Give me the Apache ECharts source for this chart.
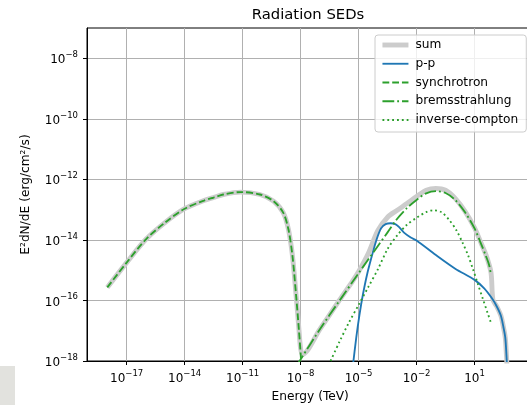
<!DOCTYPE html>
<html>
<head>
<meta charset="utf-8">
<script src="https://cdn.jsdelivr.net/npm/echarts@6/dist/echarts.min.js"></script>
<style>
html,body{margin:0;padding:0;background:#fff;}
#chart{width:527px;height:405px;}
</style>
</head>
<body>
<div id="chart"></div>
<script>
// ---- values (log10 of energy in TeV, log10 of E^2dN/dE) ----
const xTickExp = [-17, -14, -11, -8, -5, -2, 1];
const yTickExp = [-18, -16, -14, -12, -10, -8];

const sumLogE = [-18.0, -17.0, -16.0, -15.0, -14.0, -13.0, -12.5, -12.0, -11.1, -10.1, -9.4, -8.9, -8.63, -8.42, -8.23, -8.09, -8.0, -7.9, -7.0, -6.0, -5.3, -5.0, -4.5, -4.0, -3.5, -3.0, -2.5, -2.0, -1.5, -1.0, -0.5, 0.0, 0.5, 1.0, 1.3, 1.6, 1.85, 1.95, 2.15, 2.36, 2.5, 2.59, 2.65, 2.68];
const sumLogF = [-15.57, -14.75, -13.98, -13.42, -12.97, -12.70, -12.60, -12.50, -12.42, -12.50, -12.72, -13.10, -13.65, -14.53, -15.85, -16.92, -17.58, -17.78, -16.95, -16.0, -15.35, -15.05, -14.45, -13.69, -13.25, -13.02, -12.80, -12.57, -12.36, -12.30, -12.36, -12.63, -13.05, -13.6, -14.05, -14.51, -15.07, -15.97, -16.2, -16.5, -16.9, -17.23, -17.8, -18.2];

const ppLogE = [-5.32, -5.12, -4.95, -4.78, -4.56, -4.3, -4.1, -3.84, -3.6, -3.35, -3.1, -2.9, -2.65, -2.3, -2.0, -1.0, 0.0, 1.0, 1.5, 1.9, 2.15, 2.36, 2.5, 2.59, 2.65, 2.68];
const ppLogF = [-18.3, -17.23, -16.46, -15.82, -15.14, -14.5, -14.05, -13.62, -13.48, -13.45, -13.48, -13.58, -13.76, -13.92, -14.02, -14.5, -14.95, -15.32, -15.6, -15.93, -16.2, -16.5, -16.9, -17.23, -17.8, -18.2];

const synLogE = [-18.0, -17.0, -16.0, -15.0, -14.0, -13.0, -12.5, -12.0, -11.1, -10.1, -9.4, -8.9, -8.63, -8.42, -8.23, -8.09, -7.99, -7.92];
const synLogF = [-15.57, -14.75, -13.98, -13.42, -12.97, -12.70, -12.60, -12.50, -12.42, -12.50, -12.72, -13.10, -13.65, -14.53, -15.85, -16.95, -17.83, -18.6];

const bremLogE = [-8.2, -7.0, -6.0, -5.0, -4.5, -4.0, -3.5, -3.0, -2.5, -2.0, -1.5, -1.0, -0.5, 0.0, 0.5, 1.0, 1.3, 1.6, 1.75, 1.85];
const bremLogF = [-18.15, -16.95, -16.02, -15.10, -14.65, -14.20, -13.75, -13.30, -12.95, -12.68, -12.46, -12.39, -12.45, -12.68, -13.08, -13.62, -14.07, -14.55, -14.82, -15.14];

const icLogE = [-6.45, -6.0, -5.5, -5.0, -4.5, -4.0, -3.5, -3.0, -2.5, -2.0, -1.5, -1.1, -0.7, -0.3, 0.06, 0.4, 0.66, 0.91, 1.17, 1.43, 1.68, 1.85];
const icLogF = [-18.0, -17.38, -16.73, -16.15, -15.56, -14.97, -14.3, -13.85, -13.5, -13.27, -13.08, -13.02, -13.09, -13.35, -13.68, -14.12, -14.5, -14.95, -15.45, -15.95, -16.42, -16.74];

// ---- build ----
const FONT = 'DejaVu Sans';
const pairs = (le, lf) => le.map((e, i) => [Math.pow(10, e), Math.pow(10, lf[i])]);
const expOf = v => Math.round(Math.log10(v));
const supLabel = v => { const n = expOf(v); return '{b|10}{s|' + (n < 0 ? '\u2212' + (-n) : n) + '}'; };
const richLab = {
  b: {fontSize: 12, fontFamily: FONT, color: '#000', verticalAlign: 'bottom', lineHeight: 16},
  s: {fontSize: 8.5, fontFamily: FONT, color: '#000', verticalAlign: 'top', lineHeight: 10}
};
const xTicks = xTickExp.map(n => Math.pow(10, n));
const yTicks = yTickExp.map(n => Math.pow(10, n));
const GREEN = '#2ca02c';

const chart = echarts.init(document.getElementById('chart'), null, {renderer: 'canvas'});
chart.setOption({
  animation: false,
  backgroundColor: '#fff',
  textStyle: {fontFamily: FONT},
  grid: {left: 87, top: 28, width: 446.5, height: 333, show: true, borderColor: '#000', borderWidth: 1,
         backgroundColor: 'transparent', containLabel: false, outerBoundsMode: 'none'},
  graphic: [
    {type: 'text', x: 308, y: 15, style: {text: 'Radiation SEDs', font: '14.8px "DejaVu Sans"', fill: '#000', align: 'center', verticalAlign: 'middle'}},
    {type: 'rect', shape: {x: 0, y: 366, width: 15, height: 39}, style: {fill: '#e2e2de'}}
  ],
  xAxis: {
    type: 'log', logBase: 10,
    min: Math.pow(10, -19.05), max: Math.pow(10, 4.05),
    name: 'Energy (TeV)', nameLocation: 'middle', nameGap: 30,
    nameTextStyle: {fontSize: 12.2, fontFamily: FONT, color: '#000'},
    axisLine: {show: true, lineStyle: {color: '#000', width: 1}},
    axisTick: {show: true, length: 4, lineStyle: {color: '#000'}, customValues: xTicks},
    axisLabel: {margin: 8, customValues: xTicks, formatter: supLabel, rich: richLab},
    splitLine: {show: true, lineStyle: {color: '#b0b0b0', width: 1}},
    minorTick: {show: false}, minorSplitLine: {show: false}
  },
  yAxis: {
    type: 'log', logBase: 10,
    min: 1e-18, max: 1e-7,
    name: 'E\u00b2dN/dE (erg/cm\u00b2/s)', nameLocation: 'middle', nameGap: 55, nameRotate: 90,
    nameTextStyle: {fontSize: 12.2, fontFamily: FONT, color: '#000'},
    axisLine: {show: true, lineStyle: {color: '#000', width: 1}},
    axisTick: {show: true, length: 4, lineStyle: {color: '#000'}, customValues: yTicks},
    axisLabel: {margin: 9, customValues: yTicks, formatter: supLabel, rich: richLab},
    splitLine: {show: true, lineStyle: {color: '#b0b0b0', width: 1}},
    minorTick: {show: false}, minorSplitLine: {show: false}
  },
  legend: {
    orient: 'vertical', left: 375, top: 35, z: 10,
    backgroundColor: 'rgba(255,255,255,0.8)', borderColor: '#cccccc', borderWidth: 1, borderRadius: 3,
    padding: [2, 8, 4, 5], itemWidth: 26, itemHeight: 14, itemGap: 2.75,
    itemStyle: {opacity: 0},
    lineStyle: {width: 'inherit'},
    textStyle: {fontSize: 12.2, fontFamily: FONT, color: '#000', padding: [0, 0, 0, 2], lineHeight: 16},
    data: ['sum', 'p-p', 'synchrotron', 'bremsstrahlung', 'inverse-compton']
  },
  series: [
    {name: 'sum', type: 'line', symbol: 'none', smooth: 0.3, data: pairs(sumLogE, sumLogF),
     lineStyle: {color: '#cccccc', width: 4.9}, itemStyle: {color: '#cccccc'}},
    {name: 'p-p', type: 'line', symbol: 'none', smooth: 0.3, data: pairs(ppLogE, ppLogF),
     lineStyle: {color: '#1f77b4', width: 1.85}, itemStyle: {color: '#1f77b4'}},
    {name: 'synchrotron', type: 'line', symbol: 'none', smooth: 0.3, data: pairs(synLogE, synLogF),
     lineStyle: {color: GREEN, width: 1.85, type: [6.8, 2.95]}, itemStyle: {color: GREEN}},
    {name: 'bremsstrahlung', type: 'line', symbol: 'none', smooth: 0.3, data: pairs(bremLogE, bremLogF),
     lineStyle: {color: GREEN, width: 1.85, type: [11.8, 2.95, 1.85, 2.95]}, itemStyle: {color: GREEN}},
    {name: 'inverse-compton', type: 'line', symbol: 'none', smooth: 0.3, data: pairs(icLogE, icLogF),
     lineStyle: {color: GREEN, width: 1.85, type: [1.85, 3.0]}, itemStyle: {color: GREEN}}
  ]
});
</script>
</body>
</html>
